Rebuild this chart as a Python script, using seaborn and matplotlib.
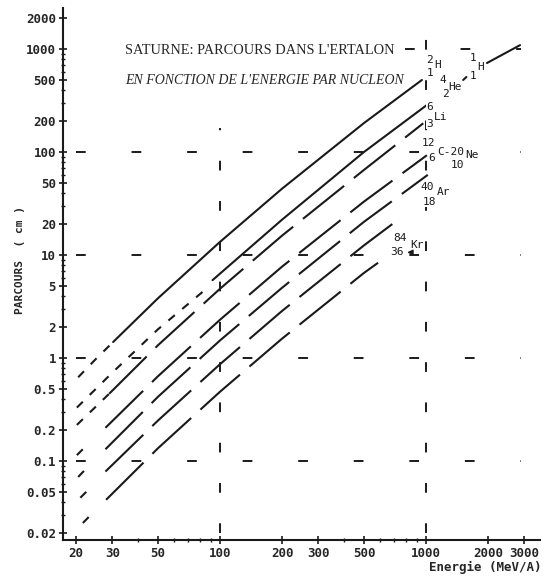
import numpy as np
import matplotlib
matplotlib.use("Agg")
import matplotlib.pyplot as plt
from matplotlib.ticker import FixedLocator, LogLocator, NullFormatter
import seaborn as sns

# energy per nucleon (MeV/A) -> range (cm)
# each ion: short-dashed start at low energy, then the main part
h2_low_e = [20.5, 25, 30.3]
h2_low_r = [0.65, 0.98, 1.43]
h2_e = [30.3, 50, 100, 200, 500, 955]
h2_r = [1.43, 3.8, 13.4, 44, 191, 500]

he_low_e = [20.2, 30, 50, 88]
he_low_r = [0.33, 0.72, 1.9, 4.9]
he_e = [92, 200, 500, 1010]
he_r = [5.7, 22, 100, 286]

# proton continues past 1 GeV
h1_dash_e = [1515, 1570]
h1_dash_r = [500, 535]
h1_e = [1977, 2860]
h1_r = [731, 1090]

li_low_e = [20.2, 29]
li_low_r = [0.224, 0.45]
li_e = [29, 50, 100, 200, 500, 970]
li_r = [0.45, 1.33, 4.7, 15.4, 67, 190]

c_low_e = [20.2, 22]
c_low_r = [0.114, 0.135]
c_e = [27.8, 50, 100, 200, 500, 1010]
c_r = [0.21, 0.665, 2.35, 7.7, 33, 93]

ne_low_e = [20.5, 22.5]
ne_low_r = [0.07, 0.085]
ne_e = [27.8, 50, 100, 200, 500, 1020]
ne_r = [0.13, 0.42, 1.48, 4.8, 21, 60]

ar_low_e = [21, 23.5]
ar_low_r = [0.044, 0.055]
ar_e = [27.8, 50, 100, 200, 500, 765]
ar_r = [0.079, 0.247, 0.87, 2.86, 12.4, 23.5]

kr_low_e = [21.6, 24]
kr_low_r = [0.025, 0.031]
kr_e = [28, 50, 100, 200, 500, 585]
kr_r = [0.042, 0.133, 0.47, 1.54, 6.7, 8.4]

y_ticks = [0.02, 0.05, 0.1, 0.2, 0.5, 1, 2, 5, 10, 20, 50, 100, 200, 500, 1000, 2000]
y_labels = ["0.02", "0.05", "0.1", "0.2", "0.5", "1", "2", "5", "10", "20", "50",
            "100", "200", "500", "1000", "2000"]
x_ticks = [20, 30, 50, 100, 200, 300, 500, 1000, 2000, 3000]
x_labels = ["20", "30", "50", "100", "200", "300", "500", "1000", "2000", "3000"]

# dashed reference lines
h_grid = [0.1, 1, 10, 100]
v_grid = [100, 1000]

sns.set_theme(style="ticks")
plt.rcParams["lines.scale_dashes"] = False
mono = "DejaVu Sans Mono"

fig = plt.figure(figsize=(5.44, 5.78), dpi=100)
ax = fig.add_axes([63 / 544, 38 / 578, 477 / 544, 532 / 578])
ax.set_xscale("log")
ax.set_yscale("log")

short = (0, (6, 7))
long_ = (0, (38, 9))
grid_h = (0, (7, 33))
grid_v = (0, (7, 22))

for lv in h_grid:
    ax.plot([20, 2900], [lv, lv], color="k", lw=1.4, linestyle=grid_h)
ax.plot([790, 2900], [1000, 1000], color="k", lw=1.4, linestyle=grid_h)
ax.plot([v_grid[0]] * 2, [0.02, 170], color="k", lw=1.4, linestyle=grid_v)
ax.plot([v_grid[1]] * 2, [0.02, 1700], color="k", lw=1.4, linestyle=grid_v)

curves = [
    (h2_low_e, h2_low_r, h2_e, h2_r, "-"),
    (he_low_e, he_low_r, he_e, he_r, "-"),
    (li_low_e, li_low_r, li_e, li_r, long_),
    (c_low_e, c_low_r, c_e, c_r, long_),
    (ne_low_e, ne_low_r, ne_e, ne_r, long_),
    (ar_low_e, ar_low_r, ar_e, ar_r, long_),
    (kr_low_e, kr_low_r, kr_e, kr_r, long_),
]
for le, lr, e, r, ls in curves:
    sns.lineplot(x=le, y=lr, ax=ax, color="k", lw=1.5, linestyle=short,
                 sort=False, estimator=None)
    sns.lineplot(x=e, y=r, ax=ax, color="k", lw=1.5, linestyle=ls,
                 sort=False, estimator=None)
sns.lineplot(x=h1_dash_e, y=h1_dash_r, ax=ax, color="k", lw=1.5, sort=False, estimator=None)
sns.lineplot(x=h1_e, y=h1_r, ax=ax, color="k", lw=1.5, sort=False, estimator=None)

ax.set_xlim(17.3, 3575)
ax.set_ylim(0.0171, 2500)

ax.xaxis.set_major_locator(FixedLocator(x_ticks))
ax.set_xticklabels(x_labels)
ax.yaxis.set_major_locator(FixedLocator(y_ticks))
ax.set_yticklabels(y_labels)
ax.xaxis.set_minor_locator(LogLocator(subs=np.arange(2, 10), numticks=20))
ax.yaxis.set_minor_locator(LogLocator(subs=np.arange(2, 10), numticks=20))
ax.xaxis.set_minor_formatter(NullFormatter())
ax.yaxis.set_minor_formatter(NullFormatter())
for lab in ax.get_xticklabels() + ax.get_yticklabels():
    lab.set_fontfamily(mono)
    lab.set_fontweight("bold")
    lab.set_fontsize(9)
ax.tick_params(which="major", direction="inout", length=6, width=1.2, color="k", pad=2)
ax.tick_params(which="minor", direction="inout", length=3, width=1.0, color="k")

sns.despine(ax=ax)
for sp in ("left", "bottom"):
    ax.spines[sp].set_color("k")
    ax.spines[sp].set_linewidth(1.5)

fig.text(20 / 544, 1 - 260 / 578, "PARCOURS  ( cm )", rotation=90, fontfamily=mono,
         fontweight="bold", fontsize=8, ha="center", va="center")
fig.text(485 / 544, 1 - 567 / 578, "Energie (MeV/A)", fontfamily=mono, fontweight="bold",
         fontsize=9, ha="center", va="center")

fig.text(125 / 544, 1 - 50 / 578, "SATURNE: PARCOURS DANS L'ERTALON",
         fontfamily="Liberation Serif", fontsize=10.4, va="center")
fig.text(125 / 544, 1 - 80 / 578, "EN FONCTION DE L'ENERGIE PAR NUCLEON",
         fontfamily="Liberation Serif", fontstyle="italic", fontsize=10, va="center")

# ion labels near the curve ends
labels = [
    ("2", 1045, 782), ("H", 1133, 700), ("1", 1045, 585),
    ("4", 1211, 500), ("He", 1384, 428), ("2", 1239, 366),
    ("1", 1694, 818), ("H", 1833, 669), ("1", 1694, 547),
    ("6", 1045, 273), ("Li", 1183, 219), ("3", 1045, 187),
    ("12", 1024, 122), ("C-20", 1324, 100), ("Ne", 1675, 93.5),
    ("6", 1069, 87.5), ("10", 1417, 74.8),
    ("40", 1012, 45.7), ("Ar", 1211, 40.9), ("18", 1034, 32.7),
    ("84", 747, 14.6), ("Kr", 904, 12.5), ("36", 725, 10.7),
]
for txt, xe, yr in labels:
    ax.text(xe, yr, txt, fontfamily=mono, fontsize=8, ha="center", va="center",
            color="k", bbox=dict(facecolor="white", edgecolor="none", pad=0.2))
# small arrow after the Kr charge number
ax.annotate("", xy=(785, 10.6), xytext=(880, 10.6),
            arrowprops=dict(arrowstyle="-|>", color="k", lw=1.2, mutation_scale=7))

fig.savefig("out.png", dpi=100)
